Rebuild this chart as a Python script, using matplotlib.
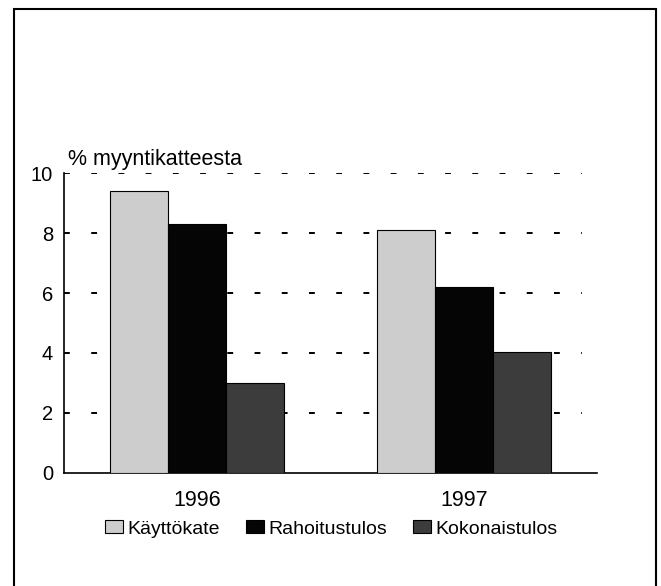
import numpy as np
import matplotlib
matplotlib.use("Agg")
import matplotlib.pyplot as plt
from matplotlib.patches import Rectangle

plt.rcParams['font.family'] = ['Liberation Sans', 'DejaVu Sans']

years = ["1996", "1997"]
series = ["Käyttökate", "Rahoitustulos", "Kokonaistulos"]
kayttokate = [9.4, 8.1]
rahoitustulos = [8.3, 6.2]
kokonaistulos = [3.0, 4.05]
values = [kayttokate, rahoitustulos, kokonaistulos]
colors = ["#cdcdcd", "#050505", "#3c3c3c"]

fig = plt.figure(figsize=(6.61, 5.86), dpi=100)
ax = fig.add_axes([64/661, 1-473/586, (597-64)/661, (473-173)/586])

x = np.arange(len(years))
w = 0.218
for i, (name, vals, c) in enumerate(zip(series, values, colors)):
    ax.bar(x + (i-1)*w, vals, w, color=c, edgecolor="black", linewidth=0.8,
           label=name, zorder=3)

# dashed grid lines, not quite to the end of the x axis
ax.hlines([2, 4, 6, 8, 10], -0.5, 1.445, colors="black", linewidth=1.4,
          linestyles=(0, (3, 11)), zorder=1)

ax.set_xlim(-0.5, 1.5)
ax.set_ylim(0, 10)
ax.set_yticks([0, 2, 4, 6, 8, 10])
ax.set_xticks(x)
ax.set_xticklabels(years)
ax.tick_params(axis="y", length=0, pad=8, labelsize=14.5)
ax.tick_params(axis="x", length=0, pad=12.5, labelsize=15.5)
for s in ["top", "right"]:
    ax.spines[s].set_visible(False)
for s in ["left", "bottom"]:
    ax.spines[s].set_linewidth(1.2)

fig.text(68/661, 1-165/586, "% myyntikatteesta", fontsize=15.5, va="baseline")

fig.legend(loc="center", bbox_to_anchor=(331/661, 1-529/586), ncol=3,
           frameon=False, fontsize=14, handlelength=0.95, handleheight=0.6,
           handletextpad=0.2, columnspacing=1.35)

fig.patches.append(Rectangle((14/661, -0.05), 642/661, 1.05-9/586,
                             transform=fig.transFigure, fill=False,
                             edgecolor="black", linewidth=1.5))

fig.savefig("out.png", dpi=100)
